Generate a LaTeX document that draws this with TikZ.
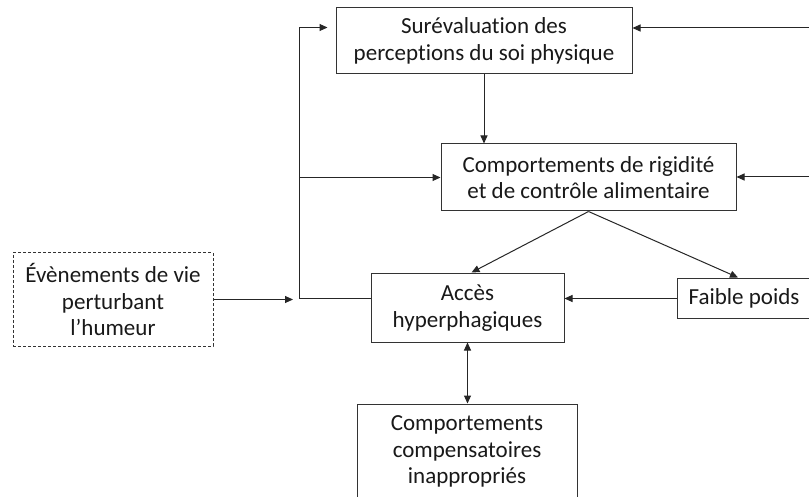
\documentclass[tikz,border=0pt]{standalone}
\usepackage{fontspec}
\setmainfont{Carlito}[Ligatures=NoCommon]
\usetikzlibrary{arrows.meta,calc}
\begin{document}
\begin{tikzpicture}[x=1pt,y=-1pt,
  box/.style={draw=black!80, line width=1pt, align=center, inner sep=0pt,
    font=\fontsize{23}{26.7}\selectfont, text=black!90},
  dbox/.style={box, dash pattern=on 3pt off 2pt},
  link/.style={draw=black!85, line width=1pt, -{Triangle[length=8pt,width=7pt]}},
  twoway/.style={draw=black!85, line width=1pt, {Triangle[length=8pt,width=7pt]}-{Triangle[length=8pt,width=7pt]}},
  plain/.style={draw=black!85, line width=1pt}]
\useasboundingbox (0,0) rectangle (809,497);
\clip (0,0) rectangle (809,497);
\fill[white] (0,0) rectangle (809,497);

% boxes
\node[box, minimum width=296pt, minimum height=66pt] (surev) at (484,41)
  {Surévaluation des\\perceptions du soi physique};
\node[box, minimum width=295pt, minimum height=67pt] (rigid) at (588.5,177.5)
  {Comportements de rigidité\\et de contrôle alimentaire};
\node[box, minimum width=193pt, minimum height=68pt] (acces) at (467.5,308)
  {Accès\\hyperphagiques};
\node[box, minimum width=134pt, minimum height=39pt] (faible) at (744,298.5)
  {Faible poids};
\node[box, minimum width=220pt, minimum height=95pt] (comp) at (467,451.5)
  {Comportements\\compensatoires\\inappropriés};
\node[dbox, minimum width=200pt, minimum height=93pt] (event) at (113,299.5)
  {Évènements de vie\\perturbant\\l’humeur};

% helper points
\coordinate (evend) at (293,299.5);
\coordinate (loopx) at (299,0);
\coordinate (surevin) at ($(surev.north west)+(-8,20)$);
\coordinate (rightA) at (815,28);
\coordinate (rightB) at (815,177);

% connectors
\draw[link] (event.east) -- (evend);
\draw[link] (surev.south) -- (surev.south |- rigid.north);
\draw[link] (faible.west) -- (faible.west -| acces.east);
\draw[plain] (faible.west -| acces.west) -- (loopx |- faible.west)
  -- (loopx |- surevin);
\draw[link] (loopx |- surevin) -- (surevin);
\draw[link] (loopx |- rigid.west) -- (rigid.west);
\draw[link] (rightA) -- (rightA -| surev.east);
\draw[link] (rightB) -- (rightB -| rigid.east);
\draw[link] (rigid.south) -- ($(acces.north)+(4,-1)$);
\draw[link] (rigid.south) -- ($(faible.north)+(-6,-1)$);
\draw[twoway] (acces.south) -- (acces.south |- comp.north);
\end{tikzpicture}
\end{document}
